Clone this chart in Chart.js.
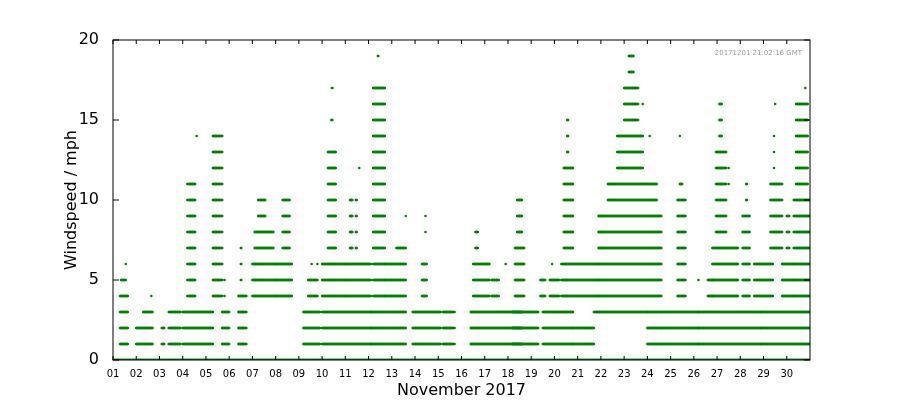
<!DOCTYPE html>
<html>
<head>
<meta charset="utf-8">
<script src="https://cdn.jsdelivr.net/npm/chart.js@4"></script>
<style>
  html, body { margin: 0; padding: 0; background: #fff; }
  #wrap { width: 900px; height: 400px; }
</style>
</head>
<body>
<div id="wrap"><canvas id="wind"></canvas></div>
<script>
// days since 1 Nov, tick labels at each day start
const dayLabels = ["01","02","03","04","05","06","07","08","09","10","11","12","13","14","15",
  "16","17","18","19","20","21","22","23","24","25","26","27","28","29","30"];
const yTicks = [0, 5, 10, 15, 20];

// observed bursts: [startDay, endDay, lowestMph, highestMph]
const zeroRuns = [[0, 30, 0, 0]];
const calmRuns = [
  [0.3, 0.65, 1, 4], [1.0, 1.7, 1, 2], [1.3, 1.7, 3, 3],
  [2.1, 2.2, 1, 2], [2.4, 2.9, 1, 3], [3.0, 4.3, 1, 3], [4.7, 5.0, 1, 3],
  [5.4, 5.75, 1, 4], [8.2, 8.9, 1, 3], [9.0, 11.1, 1, 3], [11.1, 12.6, 1, 3],
  [12.9, 14.1, 1, 3], [14.2, 14.7, 1, 3], [15.4, 17.6, 1, 3], [17.2, 18.3, 1, 3],
  [18.5, 19.8, 1, 3], [19.8, 20.7, 1, 2], [20.7, 23.0, 3, 3], [23.0, 23.6, 1, 3],
  [23.6, 25.2, 1, 3], [25.2, 27.9, 1, 3], [27.9, 30.0, 1, 3],
];
const windyRuns = [
  [0.35, 0.55, 5, 5], [0.55, 0.56, 6, 6], [1.65, 1.66, 4, 4],
  [3.2, 3.55, 4, 11], [3.6, 3.61, 14, 14], [4.3, 4.7, 4, 14], [4.8, 4.81, 4, 5],
  [5.5, 5.52, 5, 7], [6.0, 7.0, 4, 6], [6.1, 6.9, 7, 8], [6.25, 6.55, 9, 10],
  [7.0, 7.7, 4, 6], [7.3, 7.6, 7, 10], [8.4, 8.8, 4, 5], [8.55, 8.56, 6, 6], [8.8, 8.81, 6, 6],
  [9.0, 10.0, 4, 6], [9.25, 9.6, 7, 13], [9.4, 9.45, 15, 15], [9.42, 9.44, 17, 17],
  [10.0, 11.1, 4, 6], [10.2, 10.3, 7, 10], [10.45, 10.5, 7, 10], [10.6, 10.61, 12, 12],
  [11.2, 11.7, 4, 17], [11.4, 11.42, 19, 19], [11.7, 12.6, 4, 6], [12.2, 12.6, 7, 7],
  [12.6, 12.61, 9, 9], [13.3, 13.5, 4, 6], [13.45, 13.46, 8, 9],
  [15.5, 16.2, 4, 6], [15.6, 15.7, 7, 8], [16.3, 16.6, 4, 5], [16.9, 16.91, 6, 6],
  [17.3, 17.7, 4, 7], [17.4, 17.6, 8, 10], [18.4, 18.6, 4, 5], [18.8, 19.2, 4, 5], [18.9, 18.91, 6, 6],
  [19.3, 20.9, 4, 6], [19.4, 19.8, 7, 12], [19.55, 19.6, 13, 15],
  [20.9, 23.6, 4, 9], [21.3, 23.4, 10, 11], [21.7, 22.8, 12, 14], [22.0, 22.6, 15, 17],
  [22.2, 22.4, 18, 19], [22.8, 22.81, 16, 16], [23.1, 23.11, 14, 14],
  [24.3, 24.65, 4, 10], [24.4, 24.5, 11, 11], [24.4, 24.41, 14, 14], [25.2, 25.21, 5, 5],
  [25.6, 25.8, 4, 5], [25.8, 26.9, 4, 7], [25.95, 26.4, 8, 13], [26.1, 26.2, 14, 16],
  [26.5, 26.51, 11, 12], [27.1, 27.4, 4, 9], [27.25, 27.3, 10, 11],
  [27.6, 28.4, 4, 6], [28.3, 28.8, 7, 11], [28.45, 28.46, 12, 14], [28.5, 28.51, 16, 16],
  [28.8, 29.3, 4, 6], [29.0, 29.1, 7, 9], [29.3, 30.0, 4, 10], [29.4, 29.9, 11, 16],
  [29.8, 29.81, 17, 17],
];

function runsToPoints(runs) {
  const pts = [];
  runs.forEach(([a, b, lo, hi]) => {
    for (let v = lo; v <= hi; v++) {
      for (let t = a; t <= b + 1e-9; t += 0.02) pts.push({ x: t, y: v });
    }
  });
  return pts;
}

const samples = runsToPoints(zeroRuns).concat(runsToPoints(calmRuns), runsToPoints(windyRuns));

const frame = {
  id: "frame",
  afterDraw(chart) {
    const { ctx, chartArea: a } = chart;
    ctx.save();
    ctx.strokeStyle = "#000";
    ctx.lineWidth = 1;
    ctx.strokeRect(a.left, a.top, a.right - a.left, a.bottom - a.top);
    // inward tick marks, matplotlib classic style
    const xs = chart.scales.x, ys = chart.scales.y;
    ctx.beginPath();
    for (let d = 0; d < 30; d++) {
      const px = xs.getPixelForValue(d);
      ctx.moveTo(px, a.bottom); ctx.lineTo(px, a.bottom - 4);
      ctx.moveTo(px, a.top); ctx.lineTo(px, a.top + 4);
    }
    yTicks.forEach((v) => {
      const py = ys.getPixelForValue(v);
      ctx.moveTo(a.left, py); ctx.lineTo(a.left + 6, py);
      ctx.moveTo(a.right, py); ctx.lineTo(a.right - 6, py);
    });
    ctx.stroke();
    ctx.fillStyle = "#999";
    ctx.font = "7px 'DejaVu Sans'";
    ctx.textAlign = "right";
    ctx.fillText("20171201 21:02:16 GMT", a.right - 8, a.top + 15);
    ctx.restore();
  },
};

new Chart(document.getElementById("wind"), {
  type: "scatter",
  data: {
    datasets: [{
      data: samples,
      backgroundColor: "#008000",
      borderWidth: 0,
      pointRadius: 1.3,
    }],
  },
  options: {
    responsive: true,
    maintainAspectRatio: false,
    animation: false,
    layout: { padding: { top: 40, right: 90, left: 62, bottom: 0 } },
    plugins: { legend: { display: false }, tooltip: { enabled: false } },
    scales: {
      x: {
        type: "linear", min: 0, max: 30,
        afterFit: (s) => { s.height = 40; },
        afterBuildTicks: (s) => { s.ticks = dayLabels.map((_, i) => ({ value: i })); },
        grid: { display: false }, border: { display: false },
        ticks: {
          color: "#000", font: { family: "DejaVu Sans", size: 10 }, padding: 0, maxRotation: 0,
          callback: (v) => dayLabels[v],
        },
        title: { display: true, text: "November 2017", color: "#000", font: { family: "DejaVu Sans", size: 16 }, padding: 0 },
      },
      y: {
        min: 0, max: 20,
        afterFit: (s) => { s.width = 51; },
        afterBuildTicks: (s) => { s.ticks = yTicks.map((v) => ({ value: v })); },
        grid: { display: false }, border: { display: false },
        ticks: { color: "#000", font: { family: "DejaVu Sans", size: 16 }, padding: 6 },
        title: { display: true, text: "Windspeed / mph", color: "#000", font: { family: "DejaVu Sans", size: 16 }, padding: 0 },
      },
    },
  },
  plugins: [frame],
});
</script>
</body>
</html>
